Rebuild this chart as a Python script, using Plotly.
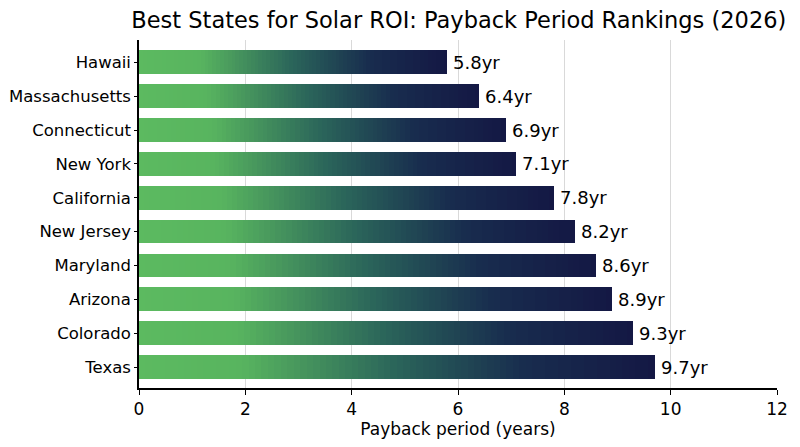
import plotly.graph_objects as go

states = ["Hawaii", "Massachusetts", "Connecticut", "New York", "California",
          "New Jersey", "Maryland", "Arizona", "Colorado", "Texas"]
payback = [5.8, 6.4, 6.9, 7.1, 7.8, 8.2, 8.6, 8.9, 9.3, 9.7]
labels = [f"{v}yr" for v in payback]
x_ticks = [0, 2, 4, 6, 8, 10, 12]

# gradient stops along each bar (fraction of bar length -> rgb)
stops = [(0.0, (92, 186, 96)), (0.2, (88, 180, 95)), (0.5, (42, 100, 90)),
         (0.75, (24, 44, 78)), (1.0, (20, 24, 68))]

def color_at(t):
    for (t0, c0), (t1, c1) in zip(stops[:-1], stops[1:]):
        if t <= t1:
            f = (t - t0) / (t1 - t0) if t1 > t0 else 0
            return "rgb(%d,%d,%d)" % tuple(round(a + (b - a) * f) for a, b in zip(c0, c1))
    return "rgb(%d,%d,%d)" % stops[-1][1]

N = 80
fig = go.Figure()
for k in range(N):
    fig.add_trace(go.Bar(
        y=states, x=[v / N for v in payback], orientation="h",
        marker=dict(color=color_at((k + 0.5) / N), line=dict(width=0)),
        width=0.7, hoverinfo="skip", showlegend=False))

for s, v, lab in zip(states, payback, labels):
    fig.add_annotation(x=v, y=s, text=lab, showarrow=False, xanchor="left",
                       xshift=4, font=dict(size=18, color="black"))

fig.update_layout(
    barmode="stack", bargap=0,
    width=800, height=447,
    margin=dict(l=139, r=22, t=40, b=55),
    paper_bgcolor="white", plot_bgcolor="white",
    font=dict(family="DejaVu Sans", color="black"),
    title=dict(text="Best States for Solar ROI: Payback Period Rankings (2026)",
               x=0.5735, xanchor="center", y=0.955, yanchor="middle",
               font=dict(size=22.5, color="black")),
)
fig.update_xaxes(range=[0, 12], tickvals=x_ticks, showgrid=True, gridcolor="#d9d9d9",
                 gridwidth=1, showline=True, linecolor="black", linewidth=1.5,
                 ticks="outside", ticklen=5, tickcolor="black", zeroline=False,
                 tickfont=dict(size=17),
                 title=dict(text="Payback period (years)", font=dict(size=17), standoff=4))
fig.update_yaxes(range=[9.62, -0.66], showgrid=False, showline=True, linecolor="black",
                 linewidth=1.5, ticks="outside", ticklen=3, tickcolor="black",
                 tickfont=dict(size=16.5), automargin=False)

fig.write_html("out.html")
